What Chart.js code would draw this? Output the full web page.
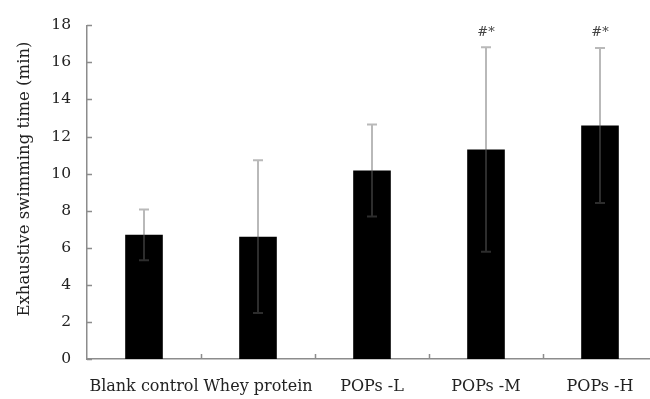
<!DOCTYPE html>
<html>
<head>
<meta charset="utf-8">
<script src="https://cdn.jsdelivr.net/npm/chart.js@4/dist/chart.umd.min.js"></script>
<style>
  html, body { margin: 0; padding: 0; background: #fff; overflow: hidden; }
  #wrap { width: 680px; height: 399px; }
</style>
</head>
<body>
<div id="wrap"><canvas id="chart" width="680" height="399"></canvas></div>
<script>
// data
const categories = ['Blank control', 'Whey protein', 'POPs -L', 'POPs -M', 'POPs -H'];
const means      = [6.7, 6.6, 10.17, 11.3, 12.59];
const sds        = [1.37, 4.12, 2.48, 5.52, 4.18];
const marks      = ['', '', '', '#*', '#*'];
const yMin = 0, yMax = 18, yStep = 2;
const yTitle = 'Exhaustive swimming time (min)';

const FONT = "'DejaVu Serif', serif";
const AXIS = '#8c8c8c';

// error bars, inner ticks, significance marks, y title
const extras = {
  id: 'extras',
  afterDatasetsDraw(chart) {
    const { ctx, chartArea: a, scales: { x, y } } = chart;
    ctx.save();

    // error bars
    ctx.strokeStyle = 'rgba(100,100,100,0.45)';
    ctx.lineWidth = 2;
    means.forEach((m, i) => {
      const cx = x.getPixelForValue(i);
      const top = y.getPixelForValue(m + sds[i]);
      const bot = y.getPixelForValue(m - sds[i]);
      ctx.beginPath();
      ctx.moveTo(cx, top); ctx.lineTo(cx, bot);
      ctx.moveTo(cx - 5, top); ctx.lineTo(cx + 5, top);
      ctx.moveTo(cx - 5, bot); ctx.lineTo(cx + 5, bot);
      ctx.stroke();
    });

    // significance marks
    ctx.fillStyle = '#444';
    ctx.font = '13px ' + FONT;
    ctx.textAlign = 'center';
    ctx.textBaseline = 'middle';
    marks.forEach((t, i) => {
      if (!t) return;
      ctx.fillText(t, x.getPixelForValue(i), y.getPixelForValue(means[i] + sds[i]) - 15);
    });

    // ticks pointing inward
    ctx.strokeStyle = AXIS;
    ctx.lineWidth = 1.5;
    ctx.beginPath();
    y.ticks.forEach(t => {
      const py = Math.round(y.getPixelForValue(t.value)) + 0.5;
      ctx.moveTo(a.left, py); ctx.lineTo(a.left + 5, py);
    });
    for (let i = 1; i < categories.length; i++) {
      const px = Math.round((x.getPixelForValue(i - 1) + x.getPixelForValue(i)) / 2) + 0.5;
      ctx.moveTo(px, a.bottom); ctx.lineTo(px, a.bottom - 5);
    }
    ctx.stroke();

    // y axis title
    ctx.fillStyle = '#222';
    ctx.font = '16.5px ' + FONT;
    ctx.translate(25, 179);
    ctx.rotate(-Math.PI / 2);
    ctx.fillText(yTitle, 0, 0);
    ctx.restore();
  }
};

new Chart(document.getElementById('chart'), {
  type: 'bar',
  data: {
    labels: categories,
    datasets: [{
      data: means,
      backgroundColor: '#000',
      borderWidth: 0,
      barPercentage: 0.33,
      categoryPercentage: 1
    }]
  },
  options: {
    responsive: false,
    animation: false,
    layout: { padding: { top: 18, right: 23, left: 0, bottom: 0 } },
    plugins: { legend: { display: false }, tooltip: { enabled: false } },
    scales: {
      x: {
        grid: { display: false, drawTicks: false },
        border: { display: true, color: AXIS, width: 1.5 },
        ticks: { color: '#222', font: { family: FONT, size: 16 }, padding: 18, maxRotation: 0, autoSkip: false },
        afterFit(s) { s.height = 40; }
      },
      y: {
        min: yMin, max: yMax,
        grid: { display: false, drawTicks: false },
        border: { display: true, color: AXIS, width: 1.5 },
        ticks: { stepSize: yStep, color: '#222', font: { family: FONT, size: 15.5 }, padding: 16 },
        afterFit(s) { s.width = 87; }
      }
    }
  },
  plugins: [extras]
});
</script>
</body>
</html>
